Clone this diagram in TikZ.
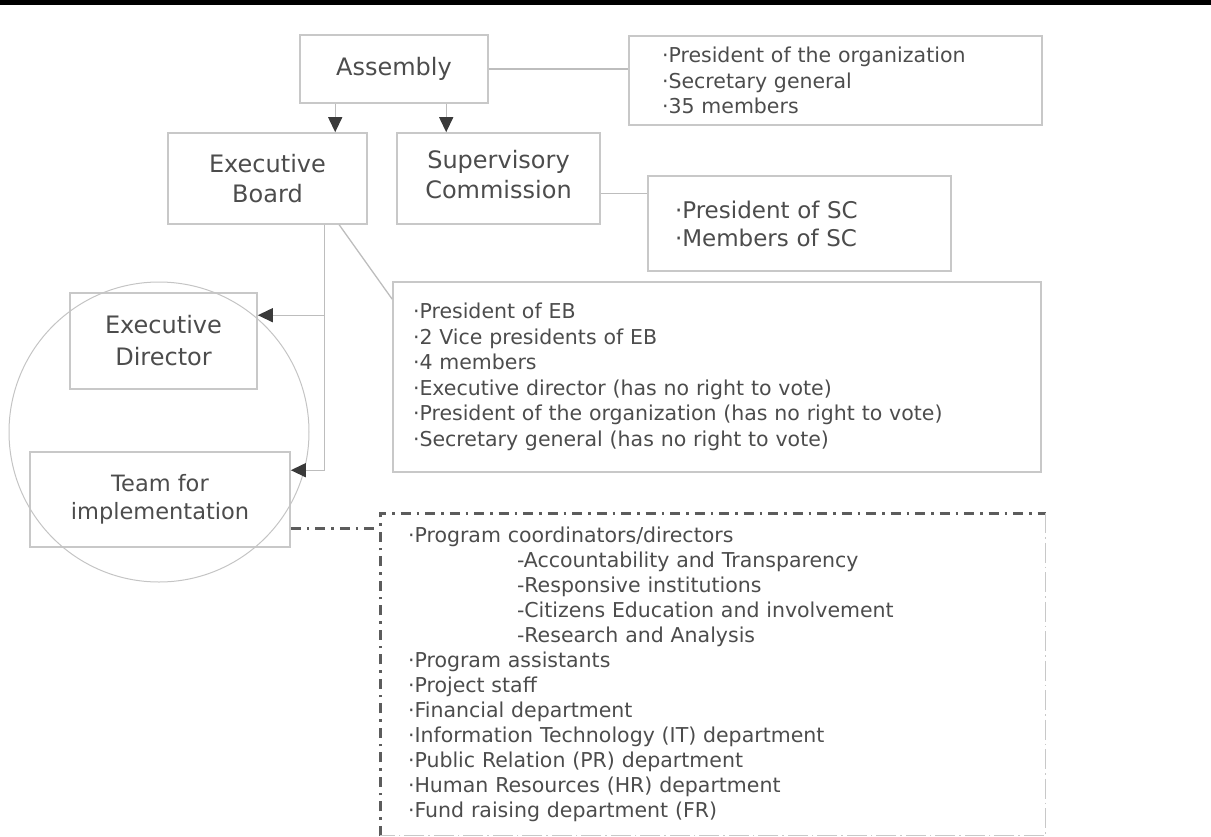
\documentclass[tikz,border=0pt]{standalone}
\usepackage{fontspec}
\setmainfont{DejaVu Sans}
\usepackage{tikz}
\usetikzlibrary{arrows.meta}

\definecolor{txtc}{HTML}{4C4C4C}
\definecolor{boxc}{HTML}{C8C8C8}
\definecolor{linec}{HTML}{BDBDBD}
\definecolor{tipc}{HTML}{3A3A3A}
\definecolor{dashc}{HTML}{5C5C5C}
\definecolor{ringc}{HTML}{C4C4C4}

\tikzset{
	titlebox/.style={draw=boxc, line width=1.6pt, text=txtc, align=center, inner sep=0pt, font=\fontsize{24}{30}\selectfont},
	listbox/.style={draw=boxc, line width=1.6pt, text=txtc, align=left, inner sep=0pt, font=\fontsize{20.5}{25.5}\selectfont},
	conn/.style={draw=linec, line width=1.3pt},
	arr/.style={conn, -{Triangle[length=15pt,width=14pt,color=tipc]}},
	dashdark/.style={draw=dashc, line width=2.6pt, dash pattern=on 10pt off 6pt on 2.5pt off 6pt},
	dashlight/.style={draw=boxc, line width=1.3pt, dash pattern=on 20pt off 4pt on 1.5pt off 4pt}
}

\begin{document}
\begin{tikzpicture}[x=1pt,y=-1pt]
	\newcommand\sub{\hspace*{109pt}}
	\useasboundingbox (0,0) rectangle (1211,836);
	\fill[black] (0,0) rectangle (1211,5);

	% boards
	\node[titlebox, minimum width=188pt, minimum height=68pt] (asm) at (394,69) {Assembly};
	\node[titlebox, minimum width=199pt, minimum height=91pt] (eb) at (267.5,178.5) {Executive\\Board};
	\node[titlebox, minimum width=203pt, minimum height=91pt, text depth=8pt] (sc) at (498.5,178.5) {Supervisory\\Commission};
	\node[titlebox, minimum width=187pt, minimum height=96pt, font=\fontsize{24}{32}\selectfont] (ed) at (163.5,341) {Executive\\Director};
	\node[titlebox, minimum width=260pt, minimum height=95pt, font=\fontsize{22.5}{28}\selectfont] (team) at (160,499.5) {Team for\\implementation};

	% member lists
	\node[listbox, minimum width=413pt, minimum height=89pt, text width=347pt] (asml) at (835.5,80.5)
		{·President of the organization\\·Secretary general\\·35 members};
	\node[listbox, minimum width=303pt, minimum height=95pt, text width=249pt, font=\fontsize{23}{28}\selectfont] (scl) at (799.5,223.5)
		{·President of SC\\·Members of SC};
	\node[listbox, minimum width=648pt, minimum height=190pt, text width=608pt] (ebl) at (717,377)
		{·President of EB\\·2 Vice presidents of EB\\·4 members\\·Executive director (has no right to vote)\\·President of the organization (has no right to vote)\\·Secretary general (has no right to vote)};
	\node[listbox, draw=none, minimum width=664pt, minimum height=321pt, text width=610pt, font=\fontsize{20.5}{25}\selectfont] (prog) at (713,674.5)
		{·Program coordinators/directors\\
		\sub-Accountability and Transparency\\
		\sub-Responsive institutions\\
		\sub-Citizens Education and involvement\\
		\sub-Research and Analysis\\
		·Program assistants\\·Project staff\\·Financial department\\
		·Information Technology (IT) department\\·Public Relation (PR) department\\
		·Human Resources (HR) department\\·Fund raising department (FR)};
	\draw[dashdark] (prog.south west) -- (prog.north west) -- (prog.north east);
	\draw[dashlight] (prog.north east) -- (prog.south east) -- (prog.south west);

	% circle round the operative part
	\draw[ringc, line width=1pt] (159,432) circle (150);

	% connectors
	\draw[arr] ([xshift=36pt]asm.south west) -- ([xshift=36pt]asm.south west |- eb.north);
	\draw[arr] ([xshift=147pt]asm.south west) -- ([xshift=147pt]asm.south west |- sc.north);
	\draw[conn] (asm.east) -- (asm.east -| asml.west);
	\coordinate (scout) at ([yshift=-61pt]sc.north east);
	\draw[conn] (scout) -- (scout -| scl.west);
	\draw[conn] ([xshift=172pt]eb.south west) -- ([yshift=-18pt]ebl.north west);

	\coordinate (split) at ([xshift=157pt]eb.south west);
	\coordinate (edin) at ([yshift=-23pt]ed.north east);
	\coordinate (teamin) at ([yshift=-19pt]team.north east);
	\draw[arr] (split) |- (teamin);
	\draw[arr] (split |- edin) -- (edin);

	\coordinate (tout) at ([yshift=-77pt]team.north east);
	\draw[dashdark] (tout) -- (tout -| prog.west);
\end{tikzpicture}
\end{document}
